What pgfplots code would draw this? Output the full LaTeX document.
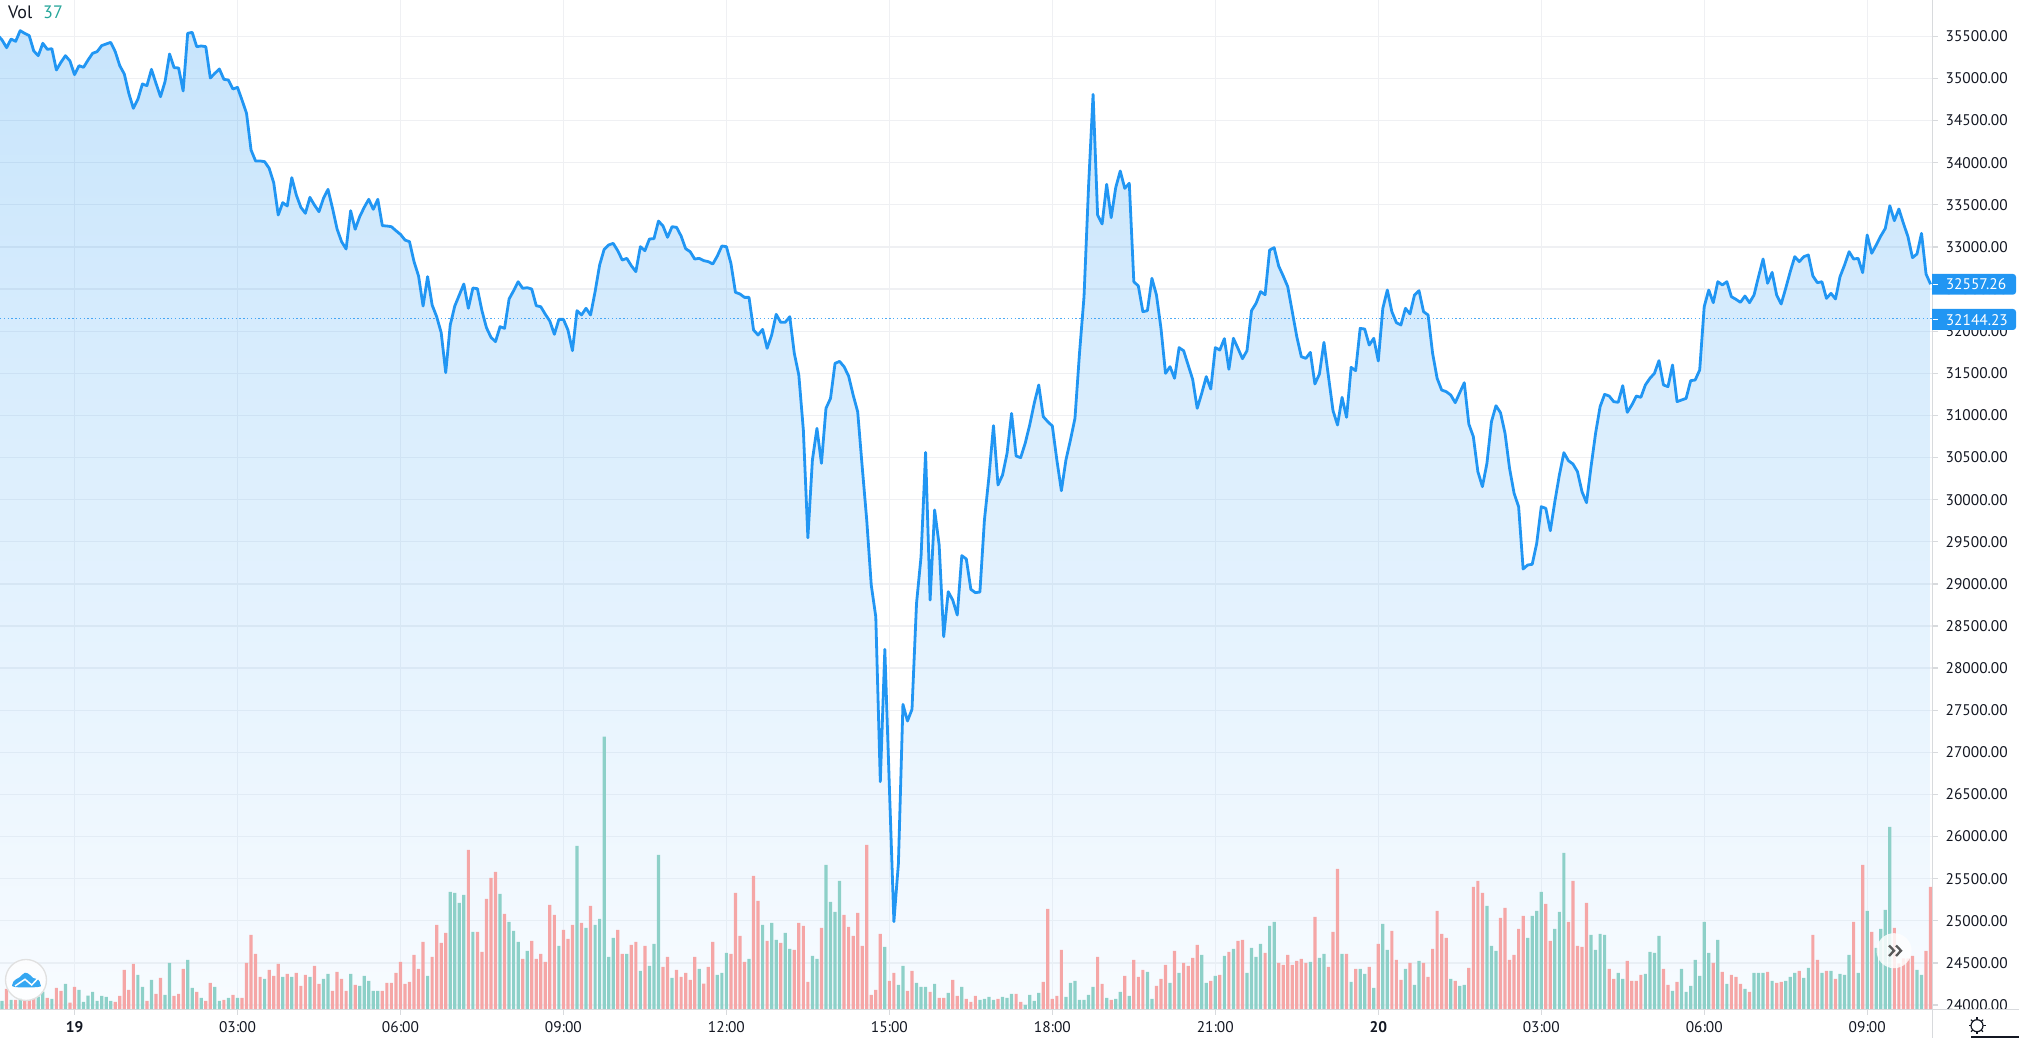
\documentclass[border=0pt]{standalone}
\usepackage{pgfplots}
\usepackage{pgfplotstable}
\usepackage{fontspec}
\setmainfont{PT Sans}
\pgfplotsset{compat=1.18}
\definecolor{tvblue}{HTML}{2196F3}
\definecolor{tvbot}{HTML}{E2F1FF}
\definecolor{tvgrid}{HTML}{EFF0F3}
\definecolor{tvaxis}{HTML}{D8DADD}
\definecolor{tvtext}{HTML}{131722}
\definecolor{volred}{HTML}{F5A6A6}
\definecolor{volteal}{HTML}{8DD0C8}
\definecolor{legteal}{HTML}{26A69A}
\definecolor{logoblue}{HTML}{35A7F2}
\pgfplotstableread[row sep=\\]{
x y\\
-17 35516\\ -16 35456\\ -15 35365\\ -14 35468\\ -13 35440\\ -12 35567\\ -11 35535\\ -10 35508\\ -9 35326\\ -8 35270\\
-7 35417\\ -6 35345\\ -5 35353\\ -4 35100\\ -3 35191\\ -2 35270\\ -1 35207\\ 0 35045\\ 1 35151\\ 2 35132\\
3 35219\\ 4 35298\\ 5 35318\\ 6 35389\\ 7 35409\\ 8 35428\\ 9 35318\\ 10 35151\\ 11 35053\\ 12 34823\\
13 34645\\ 14 34752\\ 15 34934\\ 16 34914\\ 17 35108\\ 18 34942\\ 19 34783\\ 20 34962\\ 21 35290\\ 22 35128\\
23 35124\\ 24 34851\\ 25 35535\\ 26 35547\\ 27 35377\\ 28 35385\\ 29 35377\\ 30 35005\\ 31 35060\\ 32 35112\\
33 34989\\ 34 34981\\ 35 34874\\ 36 34894\\ 37 34744\\ 38 34586\\ 39 34150\\ 40 34020\\ 41 34020\\ 42 34012\\
43 33933\\ 44 33763\\ 45 33379\\ 46 33525\\ 47 33486\\ 48 33822\\ 49 33616\\ 50 33470\\ 51 33399\\ 52 33588\\
53 33497\\ 54 33418\\ 55 33577\\ 56 33683\\ 57 33458\\ 58 33213\\ 59 33062\\ 60 32975\\ 61 33430\\ 62 33209\\
63 33359\\ 64 33470\\ 65 33565\\ 66 33446\\ 67 33565\\ 68 33252\\ 69 33248\\ 70 33240\\ 71 33193\\ 72 33149\\
73 33082\\ 74 33062\\ 75 32825\\ 76 32655\\ 77 32298\\ 78 32647\\ 79 32310\\ 80 32172\\ 81 31982\\ 82 31507\\
83 32073\\ 84 32298\\ 85 32429\\ 86 32560\\ 87 32271\\ 88 32512\\ 89 32504\\ 90 32243\\ 91 32041\\ 92 31927\\
93 31875\\ 94 32053\\ 95 32033\\ 96 32382\\ 97 32480\\ 98 32587\\ 99 32508\\ 100 32516\\ 101 32500\\ 102 32302\\
103 32290\\ 104 32200\\ 105 32120\\ 106 31962\\ 107 32140\\ 108 32140\\ 109 32014\\ 110 31768\\ 111 32243\\ 112 32192\\
113 32271\\ 114 32192\\ 115 32469\\ 116 32785\\ 117 32971\\ 118 33023\\ 119 33042\\ 120 32955\\ 121 32844\\ 122 32864\\
123 32777\\ 124 32706\\ 125 33003\\ 126 32955\\ 127 33094\\ 128 33098\\ 129 33307\\ 130 33248\\ 131 33114\\ 132 33240\\
133 33232\\ 134 33129\\ 135 32979\\ 136 32943\\ 137 32856\\ 138 32864\\ 139 32837\\ 140 32825\\ 141 32797\\ 142 32892\\
143 33011\\ 144 33003\\ 145 32805\\ 146 32461\\ 147 32441\\ 148 32401\\ 149 32401\\ 150 32014\\ 151 31954\\ 152 32021\\
153 31796\\ 154 31954\\ 155 32200\\ 156 32105\\ 157 32105\\ 158 32172\\ 159 31737\\ 160 31479\\ 161 30827\\ 162 29548\\
163 30470\\ 164 30846\\ 165 30431\\ 166 31084\\ 167 31202\\ 168 31618\\ 169 31641\\ 170 31578\\ 171 31467\\ 172 31242\\
173 31044\\ 174 30391\\ 175 29758\\ 176 28986\\ 177 28611\\ 178 26652\\ 179 28223\\ 180 26593\\ 181 24990\\ 182 25682\\
183 27570\\ 184 27372\\ 185 27511\\ 186 28769\\ 187 29323\\ 188 30561\\ 189 28808\\ 190 29877\\ 191 29461\\ 192 28373\\
193 28907\\ 194 28808\\ 195 28630\\ 196 29335\\ 197 29295\\ 198 28935\\ 199 28896\\ 200 28903\\ 201 29758\\ 202 30272\\
203 30878\\ 204 30174\\ 205 30292\\ 206 30550\\ 207 31024\\ 208 30518\\ 209 30498\\ 210 30668\\ 211 30886\\ 212 31143\\
213 31361\\ 214 30985\\ 215 30925\\ 216 30874\\ 217 30470\\ 218 30106\\ 219 30470\\ 220 30708\\ 221 30965\\ 222 31737\\
223 32409\\ 224 33715\\ 225 34811\\ 226 33379\\ 227 33272\\ 228 33743\\ 229 33347\\ 230 33703\\ 231 33901\\ 232 33695\\
233 33755\\ 234 32587\\ 235 32536\\ 236 32231\\ 237 32243\\ 238 32627\\ 239 32429\\ 240 32033\\ 241 31499\\ 242 31578\\
243 31440\\ 244 31804\\ 245 31768\\ 246 31598\\ 247 31428\\ 248 31084\\ 249 31262\\ 250 31460\\ 251 31313\\ 252 31804\\
253 31776\\ 254 31911\\ 255 31547\\ 256 31915\\ 257 31796\\ 258 31673\\ 259 31768\\ 260 32243\\ 261 32330\\ 262 32469\\
263 32433\\ 264 32963\\ 265 32991\\ 266 32773\\ 267 32655\\ 268 32528\\ 269 32231\\ 270 31934\\ 271 31697\\ 272 31677\\
273 31748\\ 274 31373\\ 275 31491\\ 276 31867\\ 277 31460\\ 278 31056\\ 279 30886\\ 280 31214\\ 281 30977\\ 282 31570\\
283 31531\\ 284 32033\\ 285 32025\\ 286 31835\\ 287 31915\\ 288 31646\\ 289 32271\\ 290 32488\\ 291 32231\\ 292 32101\\
293 32073\\ 294 32271\\ 295 32204\\ 296 32429\\ 297 32480\\ 298 32231\\ 299 32192\\ 300 31737\\ 301 31440\\ 302 31301\\
303 31282\\ 304 31242\\ 305 31151\\ 306 31270\\ 307 31388\\ 308 30898\\ 309 30747\\ 310 30332\\ 311 30154\\ 312 30431\\
313 30925\\ 314 31115\\ 315 31032\\ 316 30787\\ 317 30371\\ 318 30075\\ 319 29916\\ 320 29176\\ 321 29224\\ 322 29232\\
323 29481\\ 324 29916\\ 325 29897\\ 326 29631\\ 327 29976\\ 328 30292\\ 329 30557\\ 330 30462\\ 331 30423\\ 332 30332\\
333 30094\\ 334 29964\\ 335 30391\\ 336 30787\\ 337 31104\\ 338 31250\\ 339 31230\\ 340 31163\\ 341 31155\\ 342 31353\\
343 31036\\ 344 31123\\ 345 31230\\ 346 31214\\ 347 31361\\ 348 31440\\ 349 31499\\ 350 31650\\ 351 31361\\ 352 31341\\
353 31598\\ 354 31163\\ 355 31183\\ 356 31202\\ 357 31412\\ 358 31420\\ 359 31539\\ 360 32291\\ 361 32488\\ 362 32338\\
363 32587\\ 364 32548\\ 365 32587\\ 366 32409\\ 367 32378\\ 368 32342\\ 369 32417\\ 370 32338\\ 371 32429\\ 372 32647\\
373 32856\\ 374 32568\\ 375 32698\\ 376 32429\\ 377 32322\\ 378 32508\\ 379 32706\\ 380 32884\\ 381 32825\\ 382 32884\\
383 32904\\ 384 32655\\ 385 32575\\ 386 32587\\ 387 32389\\ 388 32449\\ 389 32382\\ 390 32647\\ 391 32785\\ 392 32943\\
393 32856\\ 394 32864\\ 395 32694\\ 396 33141\\ 397 32924\\ 398 33023\\ 399 33129\\ 400 33220\\ 401 33489\\ 402 33311\\
403 33450\\ 404 33280\\ 405 33122\\ 406 32872\\ 407 32916\\ 408 33161\\ 409 32678\\ 410 32557\\
}\price
\pgfplotstableread[row sep=\\]{
x v\\
-15 6.1\\ -13 2.8\\ -11 2.8\\ -10 2.8\\ -9 3.3\\ -6 3.4\\ -4 6.4\\ -3 5.5\\ -1 2.0\\ 0 6.7\\
9 2.2\\ 10 4.0\\ 11 11.8\\ 12 5.8\\ 13 13.6\\ 16 2.5\\ 18 4.6\\ 19 9.4\\ 22 4.0\\ 23 4.6\\
24 12.1\\ 27 5.2\\ 29 2.5\\ 30 7.9\\ 33 2.8\\ 35 4.3\\ 37 3.4\\ 38 13.9\\ 39 22.3\\ 40 16.6\\
41 9.7\\ 43 11.8\\ 44 10\\ 45 13.6\\ 47 10.6\\ 49 10.9\\ 50 7\\ 51 10.3\\ 53 13\\ 54 7.6\\
57 5.5\\ 58 11.2\\ 59 9.1\\ 60 5.5\\ 62 7.3\\ 68 5.5\\ 69 7.9\\ 70 7.9\\ 71 10.9\\ 72 14.2\\
73 7.6\\ 74 8.2\\ 75 16.3\\ 76 12.1\\ 77 20.2\\ 79 15.7\\ 80 25.3\\ 81 19.9\\ 82 22.9\\ 87 47.8\\
89 23.2\\ 90 17.2\\ 91 33.1\\ 92 39.4\\ 93 41.2\\ 95 28.6\\ 99 15.1\\ 101 20.5\\ 102 15.1\\ 103 16.6\\
104 14.2\\ 105 31.3\\ 106 28.3\\ 108 23.8\\ 109 21.1\\ 110 25.3\\ 112 25.9\\ 114 31\\ 120 23.8\\ 121 16.6\\
123 19.3\\ 124 20.2\\ 126 19\\ 130 12.7\\ 131 15.7\\ 133 11.8\\ 134 9.7\\ 135 10.9\\ 136 8.8\\ 137 15.7\\
139 7.7\\ 140 12.7\\ 141 20.2\\ 145 16.6\\ 146 34.9\\ 147 22\\ 148 14.2\\ 150 40\\ 151 32.5\\ 153 20.5\\
156 19.9\\ 159 17.8\\ 160 25.9\\ 161 25\\ 162 8.2\\ 165 24.4\\ 170 28.3\\ 171 24.7\\ 172 22\\ 173 28.9\\
174 19\\ 175 49.3\\ 176 4.3\\ 177 5.8\\ 178 22.6\\ 180 8.5\\ 181 10.9\\ 184 5.5\\ 185 11.5\\ 189 5.2\\
191 3.4\\ 192 3.4\\ 194 8.8\\ 195 4\\ 197 3.1\\ 198 2.2\\ 199 4\\ 204 3.1\\ 208 4.6\\ 209 2.2\\
214 8.2\\ 215 30.1\\ 216 3.1\\ 217 4\\ 218 17.8\\ 226 15.7\\ 227 7.6\\ 229 2.8\\ 232 10\\ 234 14.8\\
235 9.7\\ 236 11.8\\ 239 7\\ 240 9.1\\ 241 13.3\\ 243 17.5\\ 245 13.9\\ 246 13\\ 247 15.4\\ 248 19.3\\
251 8.5\\ 253 10.3\\ 255 17.2\\ 257 20.5\\ 258 20.8\\ 263 16.9\\ 266 13.9\\ 267 13.3\\ 268 16.3\\ 269 13.3\\
270 14.5\\ 271 15.1\\ 272 13.9\\ 274 27.7\\ 277 12.7\\ 278 23.2\\ 279 42.1\\ 281 16.6\\ 283 12.1\\ 286 12.7\\
288 19.6\\ 291 23.5\\ 292 14.8\\ 293 8.8\\ 295 13.9\\ 298 13.9\\ 299 9.7\\ 300 18.1\\ 301 29.5\\ 302 22.6\\
303 21.4\\ 305 8.5\\ 308 12.4\\ 309 36.7\\ 310 38.5\\ 311 34.9\\ 315 27.4\\ 316 30.4\\ 317 14.8\\ 318 16.3\\
319 24.1\\ 320 28\\ 325 31.6\\ 326 20.5\\ 330 26.2\\ 331 38.5\\ 332 19\\ 333 18.7\\ 334 31.9\\ 339 12.1\\
340 9.1\\ 343 14.5\\ 344 8.5\\ 345 8.5\\ 346 10.3\\ 351 12.1\\ 352 7.3\\ 354 8.2\\ 362 13.9\\ 364 11.2\\
366 10.3\\ 367 9.7\\ 368 7.6\\ 370 5.2\\ 374 11.2\\ 376 7.9\\ 377 8.2\\ 381 11.5\\ 384 22.3\\ 385 14.8\\
387 11.5\\ 389 9.1\\ 393 26.2\\ 395 43.3\\ 397 23.2\\ 402 24.4\\ 403 13.8\\ 404 15.3\\ 405 15.3\\ 406 16\\
409 17.5\\ 410 36.7\\
}\volred
\pgfplotstableread[row sep=\\]{
x v\\
-16 2.5\\ -14 2.8\\ -12 3.3\\ -8 3.8\\ -7 5.3\\ -5 3.1\\ -2 7.6\\ 1 5.8\\ 2 2.2\\ 3 4.1\\
4 5.2\\ 5 2.5\\ 6 4.0\\ 7 3.7\\ 8 2.5\\ 14 10.3\\ 15 6.7\\ 17 8.8\\ 20 4.3\\ 21 13.9\\
25 14.8\\ 26 6.4\\ 28 3.4\\ 31 6.7\\ 32 2.5\\ 34 3.4\\ 36 3.4\\ 42 9.1\\ 46 9.7\\ 48 9.7\\
52 9.7\\ 55 9.1\\ 56 10.6\\ 61 10.6\\ 63 7\\ 64 10\\ 65 8.5\\ 66 5.5\\ 67 5.5\\ 78 10\\
83 35.2\\ 84 34.9\\ 85 31.9\\ 86 34.3\\ 88 23.2\\ 94 34.6\\ 96 26.2\\ 97 23.5\\ 98 20.2\\ 100 17.5\\
107 19\\ 111 49\\ 113 24.4\\ 115 25.3\\ 116 27.1\\ 117 81.8\\ 118 15.7\\ 119 21.4\\ 122 16.6\\ 125 11.5\\
127 13\\ 128 19.6\\ 129 46.3\\ 132 9.4\\ 138 12.1\\ 142 10.3\\ 143 10.9\\ 144 16.9\\ 149 15.1\\ 152 25.3\\
154 25.9\\ 155 20.8\\ 157 22.9\\ 158 18.1\\ 163 16\\ 164 15.1\\ 166 43.3\\ 167 32.2\\ 168 29.2\\ 169 38.5\\
179 18.7\\ 182 7.3\\ 183 13\\ 186 7.9\\ 187 6.7\\ 188 6.7\\ 190 7.6\\ 193 4.9\\ 196 6.7\\ 200 2.8\\
201 3.1\\ 202 3.7\\ 203 2.8\\ 205 3.7\\ 206 3.4\\ 207 4.6\\ 210 1.3\\ 211 4.3\\ 212 2.5\\ 213 4.9\\
219 3.7\\ 220 7.9\\ 221 8.5\\ 222 2.8\\ 223 2.8\\ 224 4.3\\ 225 6.7\\ 228 3.4\\ 230 3.1\\ 231 5.2\\
233 4\\ 237 11.2\\ 238 3.1\\ 242 7.9\\ 244 10.9\\ 249 16.3\\ 250 7.9\\ 252 10\\ 254 16\\ 256 18.1\\
259 10.9\\ 260 18.4\\ 261 15.7\\ 262 19.6\\ 264 25\\ 265 26.2\\ 273 14.2\\ 275 15.4\\ 276 16.6\\ 280 16.6\\
282 8.2\\ 284 12.1\\ 285 10.6\\ 287 6.4\\ 289 25.6\\ 290 17.8\\ 294 12.1\\ 296 7.3\\ 297 14.5\\ 304 9.1\\
306 7\\ 307 7.3\\ 312 31\\ 313 19\\ 314 17.5\\ 321 21.4\\ 322 28\\ 323 29.5\\ 324 35.2\\ 327 24.1\\
328 29.2\\ 329 46.9\\ 335 22.3\\ 336 17.8\\ 337 22.6\\ 338 22.3\\ 341 10.9\\ 342 9.1\\ 347 10.6\\ 348 17.2\\
349 16.9\\ 350 22\\ 353 5.5\\ 355 12.1\\ 356 5.2\\ 357 7\\ 358 14.8\\ 359 10\\ 360 26.2\\ 361 16.9\\
363 20.8\\ 365 7.6\\ 369 6.1\\ 371 10.9\\ 372 10.9\\ 373 10.9\\ 375 8.5\\ 378 8.5\\ 379 9.7\\ 380 10.9\\
382 9.4\\ 383 12.4\\ 386 10.9\\ 388 11.5\\ 390 10.6\\ 391 10.3\\ 392 16.3\\ 394 10.9\\ 396 29.5\\ 398 18.4\\
399 24.1\\ 400 29.8\\ 401 54.7\\ 407 11.8\\ 408 10.3\\
}\volteal
\pgfplotsset{
 tvframe/.style={
  scale only axis, width=1932.5pt, height=1009.3pt,
  at={(0pt,28.7pt)}, anchor=south west,
  xmin=-16.457, xmax=410.42,
 },
}
\begin{document}
\fontsize{15.4}{18}\selectfont
\begin{tikzpicture}[x=1pt,y=1pt]
\useasboundingbox (0,0) rectangle (2019,1038);
% grid, ticks, area
\begin{axis}[tvframe,
  ymin=23950, ymax=35931,
  axis x line*=bottom, axis y line*=right,
  axis line style={draw=tvaxis,line width=1.3pt,-},
  xtick={0,36,72,108,144,180,216,252,288,324,360,396},
  xticklabels={\textbf{19},03:00,06:00,09:00,12:00,15:00,18:00,21:00,\textbf{20},03:00,06:00,09:00},
  ytick={24000,24500,...,35500},
  major tick length=5.5pt,
  tick style={draw=tvaxis,line width=1.3pt},
  tick align=outside,
  grid=major,
  major grid style={draw=tvgrid,line width=1.3pt},
  yticklabel pos=right,
  y tick label style={anchor=west,inner sep=0pt,xshift=7.5pt,text=tvtext,
    /pgf/number format/fixed,/pgf/number format/fixed zerofill,
    /pgf/number format/precision=2,/pgf/number format/1000 sep={},
    /pgf/number format/assume math mode=true},
  x tick label style={anchor=base,inner sep=0pt,yshift=-17.5pt,text=tvtext},
  scaled y ticks=false,
  axis on top=false,
]
\addplot[draw=none,shade,top color=tvblue,bottom color=tvbot,fill opacity=0.25] table[x=x,y=y] {\price} \closedcycle;
\end{axis}
% volume
\begin{axis}[tvframe, axis lines=none, ymin=0, ymax=302.79]
\addplot[ybar,bar width=3.2pt,bar shift=0pt,draw=none,fill=volred] table[x=x,y=v] {\volred};
\addplot[ybar,bar width=3.2pt,bar shift=0pt,draw=none,fill=volteal] table[x=x,y=v] {\volteal};
\end{axis}
% line
\begin{axis}[tvframe, axis lines=none, ymin=23950, ymax=35931]
\addplot[tvblue,line width=1pt,opacity=0.8,dash pattern=on 1.4pt off 2.4pt] coordinates {(-16.457,32144.23) (410.42,32144.23)};
\addplot[tvblue,line width=2.8pt,line join=round] table[x=x,y=y] {\price};
\end{axis}
% mask under the axis and lower frame
\fill[white] (1933.2,0) rectangle (2019,28);
\draw[tvaxis,line width=1.3pt] (0,28.7) -- (2019,28.7);
\draw[tvaxis,line width=1.3pt] (1932.5,0) -- (1932.5,1038);
% price labels
\fill[tvblue] (1932,764) -- (1932,743.3) [rounded corners=3pt] -- (2016,743.3) -- (2016,764) [sharp corners] -- cycle;
\fill[tvblue] (1932,729) -- (1932,708) [rounded corners=3pt] -- (2016,708) -- (2016,729) [sharp corners] -- cycle;
\draw[white,line width=1.3pt] (1932.5,753.5) -- (1938,753.5);
\draw[white,line width=1.3pt] (1932.5,718.5) -- (1938,718.5);
\node[anchor=west,inner sep=0pt,text=white] at (1945.6,753.5) {32557.26};
\node[anchor=west,inner sep=0pt,text=white] at (1945.6,718.3) {32144.23};
% legend
\node[anchor=base west,inner sep=0pt,text=tvtext] at (8,1019.5) {\fontsize{18}{20}\selectfont Vol};
\node[anchor=base west,inner sep=0pt,text=legteal] at (43,1019.5) {\fontsize{18}{20}\selectfont 37};
% logo badge
\fill[white,fill opacity=0.8] (26,58) circle (20.5);
\draw[black!12,line width=1.3pt] (26,58) circle (20.5);
\fill[logoblue] plot[smooth cycle,tension=0.7] coordinates {(12.7,54.5) (15,58) (20,61) (25,65.3) (30,63) (33,60) (38,58.5) (40.3,54) (38,51) (15,51)};
\draw[white,line width=1.5pt] (15,52) -- (25,58.7) -- (31.7,53) -- (38,59.7);
% scroll badge
\fill[white,fill opacity=0.82] (1894,87.3) circle (17.5);
\draw[black!65!white,line width=2.3pt] (1889,92.5) -- (1894,87.3) -- (1889,82);
\draw[black!65!white,line width=2.3pt] (1896,92.5) -- (1901,87.3) -- (1896,82);
% settings icon
\draw[tvtext,line width=1.2pt] (1977,12.3) circle (6);
\foreach \a in {0,45,...,315} \draw[tvtext,line width=1.2pt] (1977,12.3)++(\a:6) -- ++(\a:2.5);
\draw[tvtext,line width=1.5pt] (1971,0.8) -- (2019,0.8);
\end{tikzpicture}
\end{document}
